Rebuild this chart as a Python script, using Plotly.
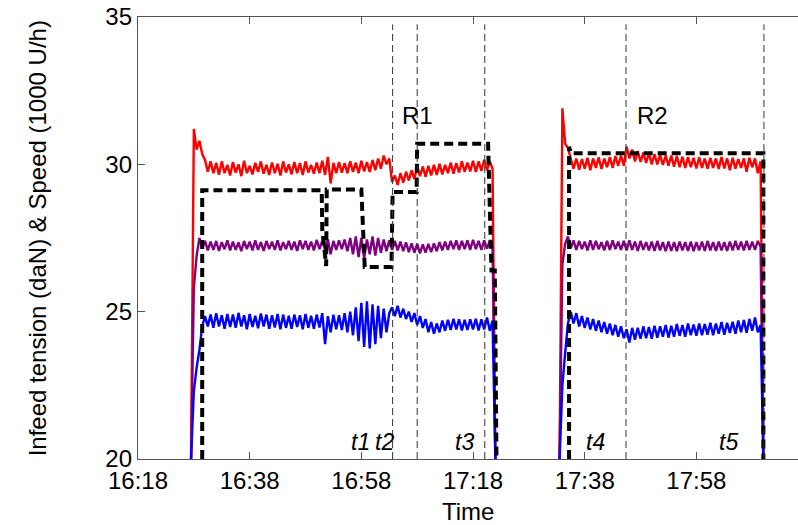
import numpy as np
import pandas as pd
import plotly.graph_objects as go

DAY = "2000-01-01 "

# ---- run 1 (sampled every 30 s from 16:27:30) ----
run1_start = DAY + "16:27:30"
red1 = [20, 31.2, 30.5, 30.8, 30.35, 30.15, 29.75, 30.1, 29.7, 30.05, 29.65, 30.1, 29.7, 29.98, 29.62,
        30.08, 29.72, 30.0, 29.6, 30.12, 29.7, 29.95, 29.66, 30.05, 29.74, 30.1, 29.68, 29.98, 29.64,
        30.06, 29.7, 30.02, 29.62, 30.1, 29.72, 30.0, 29.66, 30.08, 29.7, 30.04, 29.64, 30.1, 29.72,
        29.98, 29.68, 30.06, 29.7, 30.12, 29.64, 30.25, 29.35, 30.05, 29.7, 30.08, 29.72, 30.04, 29.7,
        30.1, 29.74, 30.06, 29.7, 30.12, 29.76, 30.08, 29.74, 30.15, 29.8, 30.2, 29.85, 30.3, 30.0,
        30.2, 29.4, 29.62, 29.3, 29.7, 29.38, 29.75, 29.45, 29.8, 29.5, 29.95, 29.6, 29.92, 29.58,
        29.95, 29.62, 29.98, 29.64, 30.02, 29.66, 29.98, 29.7, 30.06, 29.68, 30.04, 29.72, 30.1, 29.74,
        30.06, 29.76, 30.12, 29.74, 30.1, 29.78, 30.15, 29.8, 30.1, 29.85, 20]
purple1 = [20, 25.8, 26.9, 27.5, 27.15, 27.4, 27.08, 27.38, 27.1, 27.4, 27.06, 27.36, 27.12, 27.42,
           27.08, 27.38, 27.1, 27.35, 27.05, 27.4, 27.12, 27.38, 27.08, 27.42, 27.1, 27.36, 27.06, 27.4,
           27.12, 27.38, 27.1, 27.42, 27.08, 27.36, 27.12, 27.4, 27.1, 27.38, 27.06, 27.42, 27.12, 27.4,
           27.1, 27.38, 27.08, 27.44, 27.12, 27.4, 27.1, 27.45, 26.95, 27.4, 27.1, 27.42, 27.12, 27.45,
           27.05, 27.5, 26.95, 27.55, 26.85, 27.5, 26.8, 27.45, 26.95, 27.55, 26.9, 27.5, 27.0, 27.45,
           27.05, 27.42, 27.1, 27.4, 27.08, 27.38, 27.05, 27.35, 27.02, 27.32, 27.0, 27.3, 26.98, 27.28,
           27.0, 27.3, 27.02, 27.32, 27.05, 27.36, 27.08, 27.38, 27.1, 27.4, 27.12, 27.42, 27.1, 27.4,
           27.12, 27.42, 27.1, 27.44, 27.12, 27.4, 27.1, 27.42, 27.14, 27.4, 27.2, 20]
blue1 = [20, 22.3, 23.1, 23.7, 24.5, 24.85, 24.5, 24.9, 24.45, 24.95, 24.5, 24.88, 24.42, 24.92, 24.48,
         24.9, 24.45, 24.96, 24.5, 24.88, 24.4, 24.92, 24.48, 24.86, 24.44, 24.94, 24.5, 24.9, 24.42,
         24.88, 24.46, 24.92, 24.4, 24.9, 24.45, 24.86, 24.42, 24.9, 24.48, 24.88, 24.4, 24.92, 24.45,
         24.86, 24.42, 24.9, 24.46, 24.95, 23.9, 24.85, 24.3, 24.9, 24.4, 24.88, 24.38, 24.95, 24.3,
         25.0, 24.2, 25.15, 24.0, 25.3, 23.8, 25.35, 23.75, 25.25, 23.9, 25.2, 24.1, 25.1, 24.3, 24.95,
         25.15, 24.85, 25.2, 24.8, 25.1, 24.75, 25.0, 24.65, 24.95, 24.55, 24.85, 24.45, 24.75, 24.3,
         24.65, 24.25, 24.6, 24.3, 24.7, 24.35, 24.72, 24.38, 24.76, 24.4, 24.74, 24.36, 24.72, 24.38,
         24.74, 24.4, 24.76, 24.36, 24.74, 24.4, 24.8, 24.35, 24.7, 20]

# ---- run 2 (sampled every 30 s from 17:33:30) ----
run2_start = DAY + "17:33:30"
red2 = [20, 31.9, 30.7, 30.55, 30.2, 29.85, 30.2, 29.82, 30.18, 29.85, 30.22, 29.8, 30.2, 29.88, 30.24,
        29.84, 30.2, 29.9, 30.25, 29.88, 30.28, 29.95, 30.3, 29.95, 30.6, 30.2, 30.5, 30.1, 30.45, 30.08,
        30.4, 30.05, 30.38, 30.0, 30.35, 30.0, 30.32, 29.98, 30.3, 29.95, 30.3, 29.92, 30.28, 29.9, 30.26,
        29.88, 30.25, 29.9, 30.22, 29.86, 30.24, 29.88, 30.2, 29.85, 30.22, 29.88, 30.2, 29.84, 30.25,
        29.86, 30.2, 29.8, 30.22, 29.85, 30.18, 29.88, 30.2, 29.75, 30.22, 29.9, 30.2, 29.7, 30.1, 20]
purple2 = [20, 26.6, 27.3, 27.55, 27.15, 27.42, 27.1, 27.4, 27.12, 27.38, 27.08, 27.42, 27.1, 27.4,
           27.12, 27.36, 27.08, 27.4, 27.1, 27.42, 27.12, 27.38, 27.1, 27.4, 27.08, 27.42, 27.1, 27.38,
           27.06, 27.4, 27.1, 27.36, 27.08, 27.38, 27.06, 27.4, 27.08, 27.36, 27.05, 27.38, 27.06, 27.36,
           27.05, 27.38, 27.08, 27.36, 27.06, 27.38, 27.05, 27.36, 27.08, 27.38, 27.06, 27.4, 27.08, 27.36,
           27.06, 27.38, 27.08, 27.36, 27.06, 27.38, 27.08, 27.4, 27.1, 27.38, 27.08, 27.4, 27.1, 27.38,
           27.1, 27.4, 27.2, 20]
blue2 = [20, 22.5, 23.6, 24.6, 25.0, 24.6, 24.95, 24.5, 24.85, 24.45, 24.8, 24.4, 24.75, 24.35, 24.7,
         24.3, 24.65, 24.25, 24.6, 24.2, 24.55, 24.15, 24.5, 24.1, 24.4, 23.95, 24.45, 24.05, 24.45, 24.08,
         24.5, 24.1, 24.48, 24.08, 24.52, 24.12, 24.5, 24.15, 24.55, 24.12, 24.52, 24.15, 24.58, 24.18,
         24.55, 24.15, 24.6, 24.2, 24.56, 24.18, 24.6, 24.2, 24.58, 24.22, 24.62, 24.2, 24.6, 24.25, 24.65,
         24.22, 24.62, 24.28, 24.66, 24.25, 24.7, 24.3, 24.72, 24.28, 24.75, 24.35, 24.8, 24.3, 24.55, 20]

# ---- speed set point (black dashed) ----
speed_time = ["16:29:30", "16:29:30", "16:50:54", "16:51:00", "16:51:42", "16:51:48", "16:58:00",
              "16:58:36", "17:03:24", "17:03:36", "17:07:54", "17:08:00", "17:20:42", "17:21:18",
              "17:21:54", "17:22:12", None,
              "17:35:12", "17:35:12", "17:35:30", "18:10:00", "18:10:00"]
speed_vals = [20, 29.12, 29.12, 27.8, 26.55, 29.15, 29.15, 26.52, 26.52, 29.06, 29.06, 30.7, 30.7,
              26.4, 26.4, 20, None,
              20, 30.6, 30.38, 30.38, 20]

# ---- event markers ----
event_times = ["17:03:36", "17:08:00", "17:20:06", "17:45:24", "18:10:06"]
event_labels = ["t1", "t2", "t3", "t4", "t5"]
event_label_times = ["16:57:54", "17:02:12", "17:16:24", "17:40:00", "18:03:48"]
region_labels = ["R1", "R2"]
region_label_times = ["17:08:00", "17:50:12"]

x_ticks = ["16:18", "16:38", "16:58", "17:18", "17:38", "17:58"]
y_ticks = [20, 25, 30, 35]


def grid(start, n):
    return pd.Timestamp(start) + pd.to_timedelta(np.arange(n) * 30, unit="s")


def ts(s):
    return None if s is None else DAY + s


FONT = "Liberation Sans, Arial, sans-serif"
fig = go.Figure()

for start, series in [(run1_start, [red1, purple1, blue1]), (run2_start, [red2, purple2, blue2])]:
    for vals, col in zip(series, ["#ff0000", "#800080", "#0000ff"]):
        fig.add_trace(go.Scatter(x=grid(start, len(vals)), y=vals, mode="lines",
                                 line=dict(color=col, width=2.4), hoverinfo="skip"))

fig.add_trace(go.Scatter(x=[ts(t) for t in speed_time], y=speed_vals, mode="lines",
                         connectgaps=False,
                         line=dict(color="black", width=4, dash="9px,5px")))

for t in event_times:
    fig.add_shape(type="line", x0=ts(t), x1=ts(t), y0=20, y1=34.75, xref="x", yref="y",
                  line=dict(color="#333", width=1, dash="7px,4px"))

for lab, t in zip(event_labels, event_label_times):
    fig.add_annotation(x=ts(t), y=20, yanchor="bottom", yshift=2, text="<i>%s</i>" % lab,
                       showarrow=False, font=dict(family=FONT, size=23, color="black"))
for lab, t in zip(region_labels, region_label_times):
    fig.add_annotation(x=ts(t), y=31.65, text=lab, showarrow=False,
                       font=dict(family=FONT, size=24, color="black"))

fig.add_annotation(xref="paper", yref="paper", x=-0.176, y=0.5, text="Infeed tension (daN) & Speed (1000 U/h)",
                   textangle=-90, showarrow=False, font=dict(family=FONT, size=24, color="black"))
fig.add_annotation(xref="paper", yref="paper", x=0.5, y=0, yshift=-52, yanchor="middle", text="Time",
                   showarrow=False, font=dict(family=FONT, size=24, color="black"))

fig.update_layout(
    width=798, height=525, margin=dict(l=138, r=0, t=17, b=66),
    paper_bgcolor="white", plot_bgcolor="white", showlegend=False,
    font=dict(family=FONT, size=24, color="black"),
)
fig.update_xaxes(type="date", range=[DAY + "16:18:00", DAY + "18:16:12"],
                 tickvals=[DAY + t for t in x_ticks], ticktext=x_ticks,
                 showline=True, linecolor="#555", linewidth=1.3, mirror="ticks",
                 ticks="inside", ticklen=7, tickcolor="#555", showgrid=False, zeroline=False,
                 tickfont=dict(family=FONT, size=24, color="black"))
fig.update_yaxes(range=[20, 35], tickvals=y_ticks, showline=True, linecolor="#555", linewidth=1.3,
                 ticks="inside", ticklen=7, tickcolor="#555", showgrid=False, zeroline=False,
                 tickfont=dict(family=FONT, size=24, color="black"))

fig.write_html("out.html")
